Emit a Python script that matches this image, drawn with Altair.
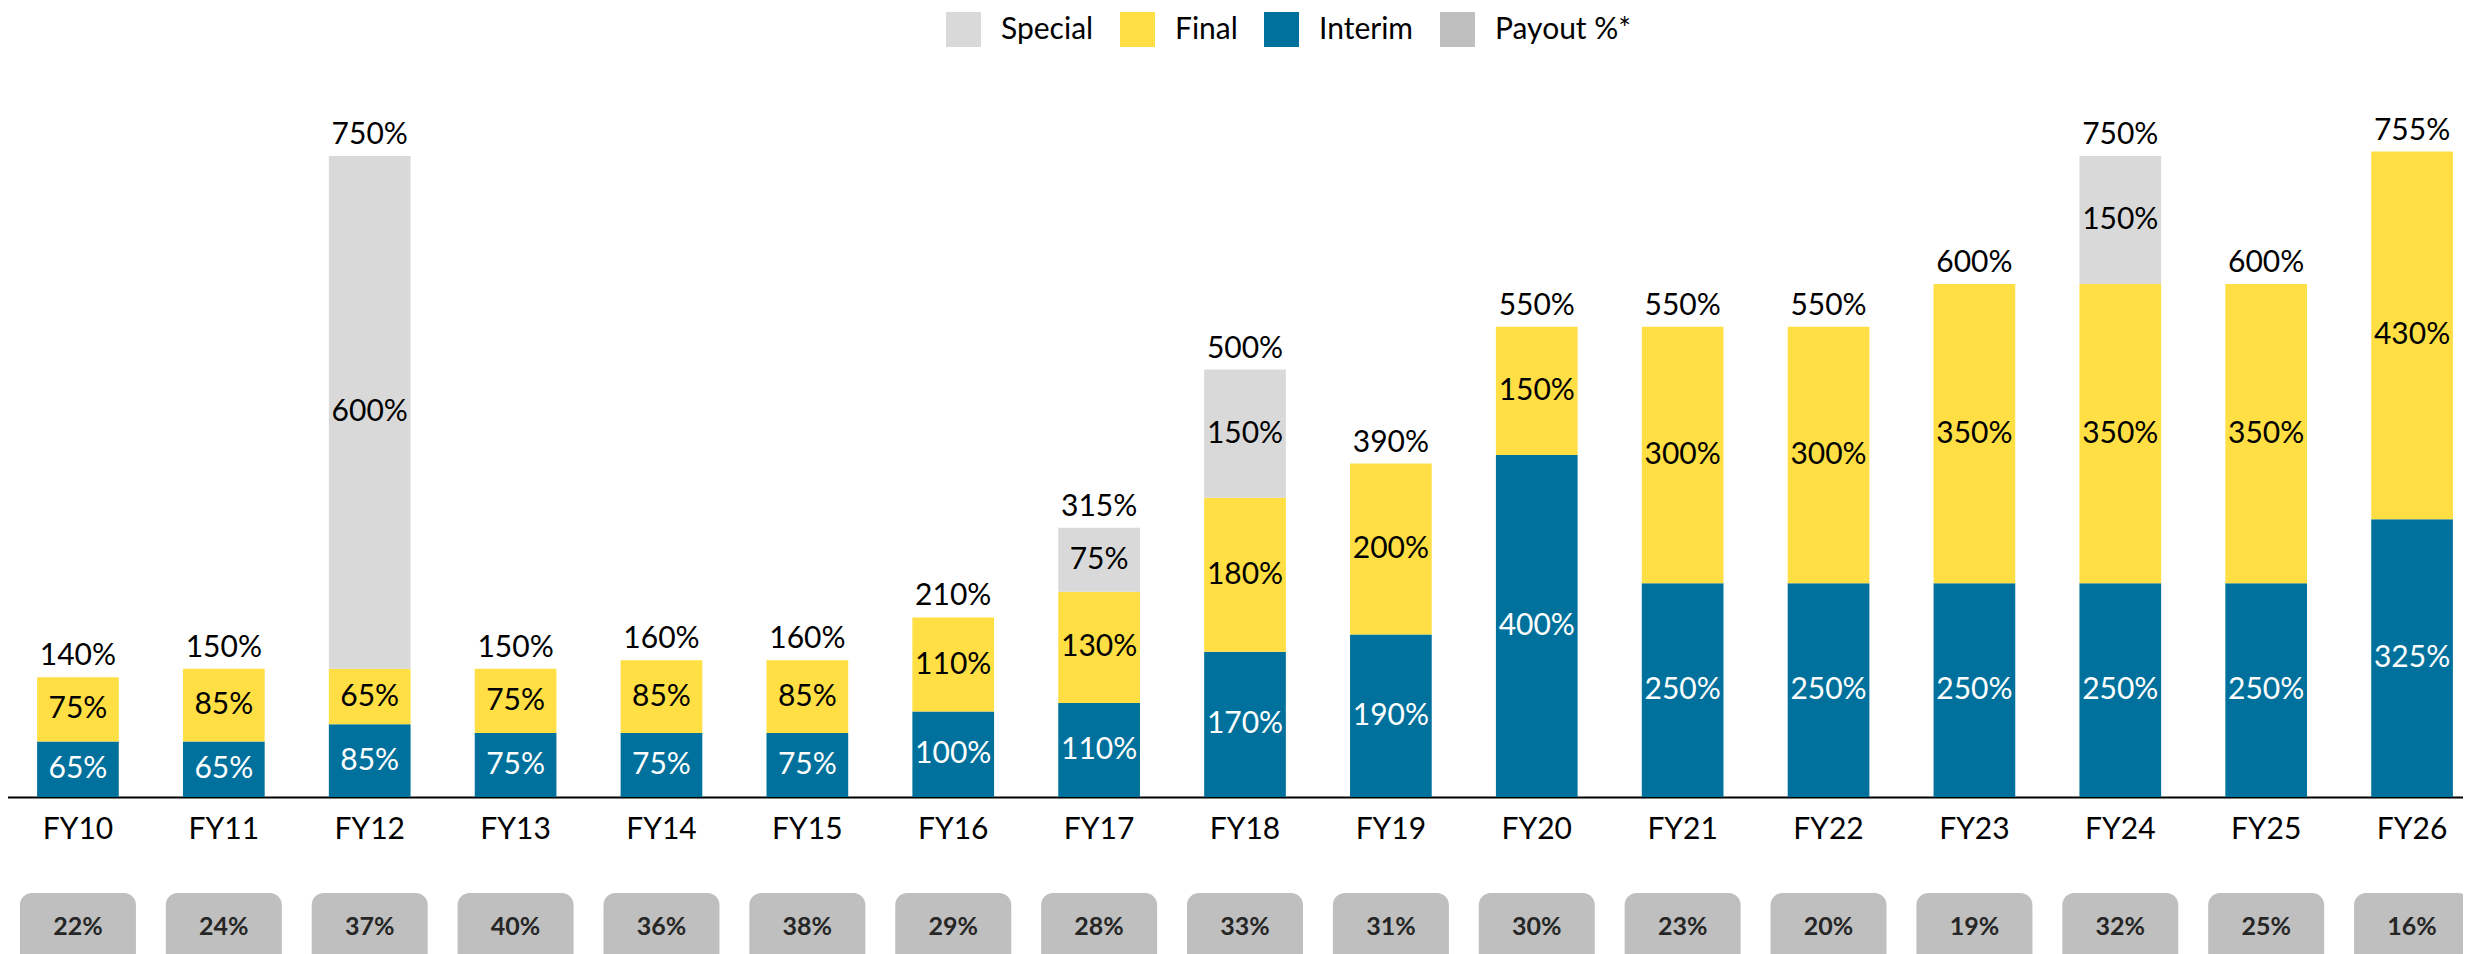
import altair as alt
import pandas as pd

years = ["FY10", "FY11", "FY12", "FY13", "FY14", "FY15", "FY16", "FY17", "FY18",
         "FY19", "FY20", "FY21", "FY22", "FY23", "FY24", "FY25", "FY26"]
interim = [65, 65, 85, 75, 75, 75, 100, 110, 170, 190, 400, 250, 250, 250, 250, 250, 325]
final = [75, 85, 65, 75, 85, 85, 110, 130, 180, 200, 150, 300, 300, 350, 350, 350, 430]
special = [0, 0, 600, 0, 0, 0, 0, 75, 150, 0, 0, 0, 0, 0, 150, 0, 0]
payout = [22, 24, 37, 40, 36, 38, 29, 28, 33, 31, 30, 23, 20, 19, 32, 25, 16]

series_names = ["Special", "Final", "Interim", "Payout %*"]
series_colors = ["#d9d9d9", "#ffdf43", "#00719c", "#bfbfbf"]
stack_order = {"Interim": 0, "Final": 1, "Special": 2}

rows = []
for i, fy in enumerate(years):
    for name, vals in (("Interim", interim), ("Final", final), ("Special", special)):
        if vals[i] > 0:
            rows.append({"fy": fy, "series": name, "value": vals[i], "ord": stack_order[name]})
seg = pd.DataFrame(rows)
pay = pd.DataFrame({"fy": years, "series": "Payout %*", "payout": payout})

FONT = "Lato"
FS = 30

xscale = alt.Scale(range=[-3, 2477], paddingInner=0.44, paddingOuter=0.22)
xaxis = alt.Axis(title=None, labelFont=FONT, labelFontSize=FS, labelColor="black",
                 labelAngle=0, labelPadding=17, ticks=False, domainColor="black",
                 domainWidth=2, grid=False)
x = alt.X("fy:N", sort=years, scale=xscale, axis=xaxis, title=None)
yscale = alt.Scale(domain=[0, 923], nice=False, zero=True)
color_scale = alt.Scale(domain=series_names, range=series_colors)

base = alt.Chart(seg).transform_stack(
    stack="value", groupby=["fy"], sort=[alt.SortField("ord", order="ascending")],
    as_=["v0", "v1"]
)

bars = base.mark_bar().encode(
    x=x,
    y=alt.Y("v1:Q", scale=yscale, axis=None, title=None),
    y2="v0:Q",
    color=alt.Color("series:N", scale=color_scale, legend=alt.Legend(
        title=None, orient="none", legendX=938, legendY=4, direction="horizontal",
        symbolType="square", symbolSize=1225, symbolStrokeWidth=0, symbolOpacity=1,
        labelFontSize=30, labelFont=FONT, labelColor="black",
        columnPadding=26, labelOffset=20)),
)

seg_text = base.transform_calculate(
    mid="(datum.v0 + datum.v1) / 2", label="datum.value + '%'"
).mark_text(font=FONT, fontSize=FS, baseline="middle").encode(
    x=x,
    y=alt.Y("mid:Q", scale=yscale, axis=None, title=None),
    text="label:N",
    color=alt.condition("datum.series === 'Interim'", alt.value("white"), alt.value("black")),
)

totals = alt.Chart(seg).transform_aggregate(
    total="sum(value)", groupby=["fy"]
).transform_calculate(label="datum.total + '%'").mark_text(
    font=FONT, fontSize=FS, baseline="alphabetic", dy=-12, color="black"
).encode(
    x=x,
    y=alt.Y("total:Q", scale=yscale, axis=None, title=None),
    text="label:N",
)

boxes = alt.Chart(pay).mark_bar(width=116, cornerRadius=12).encode(
    x=x,
    y=alt.value(885),
    y2=alt.value(965),
    color=alt.Color("series:N", scale=color_scale, legend=None),
)

box_text = alt.Chart(pay).transform_calculate(label="datum.payout + '%'").mark_text(
    font=FONT, fontSize=25, fontWeight="bold", color="#262626", baseline="middle"
).encode(
    x=x,
    y=alt.value(919),
    text="label:N",
)

chart = alt.layer(bars, seg_text, totals, boxes, box_text).properties(
    width=2455,
    height=789,
    padding={"left": 0, "top": 0, "right": 0, "bottom": 157},
    autosize=alt.AutoSizeParams(type="none"),
).configure_view(stroke=None)

chart.save("out.html", embed_options={"renderer": "svg", "actions": False})
